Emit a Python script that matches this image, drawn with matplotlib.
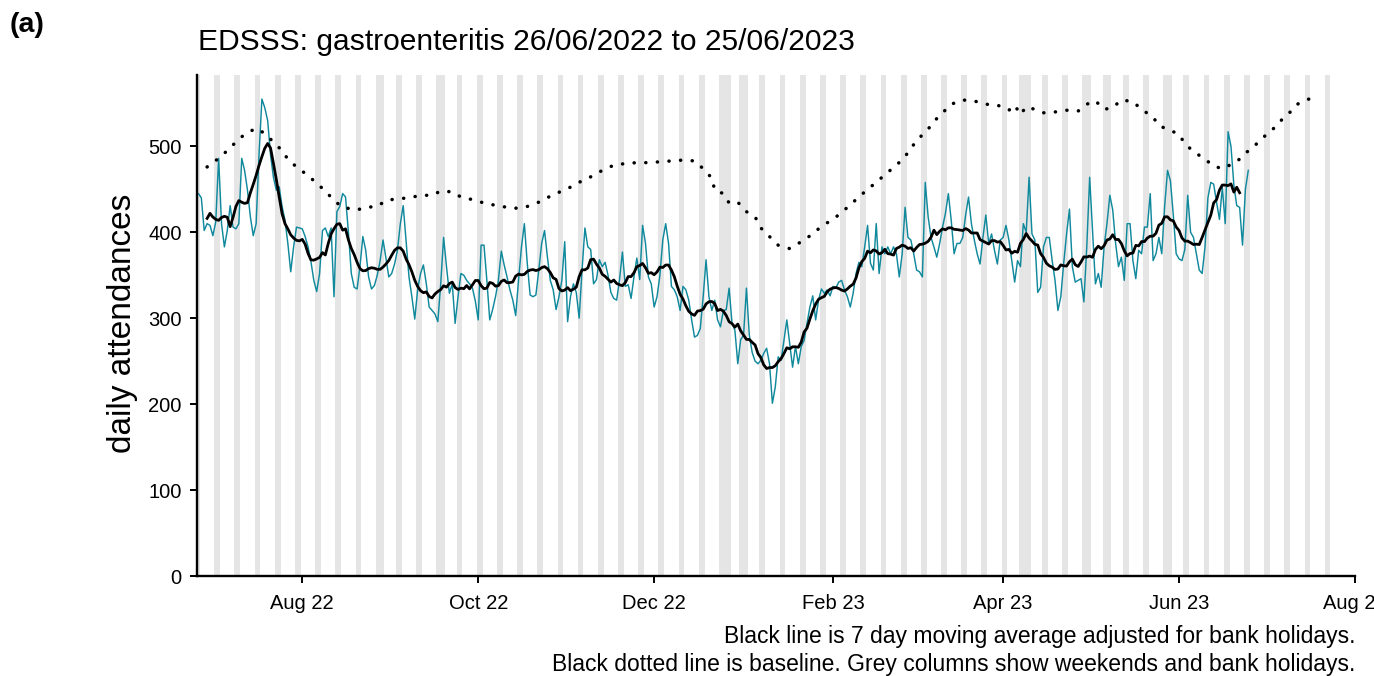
import matplotlib
matplotlib.use("Agg")
import matplotlib.pyplot as plt
import matplotlib.dates as mdates
import numpy as np
import pandas as pd

plt.rcParams['font.family'] = ['Liberation Sans', 'DejaVu Sans']

# daily gastroenteritis attendances, one value per day from 26/06/2022
start = "2022-06-26"
daily = [
    445, 440, 402, 410, 408, 396, 412,
    486, 410, 383, 402, 431, 406, 404,
    410, 486, 472, 449, 418, 396, 410,
    490, 555, 545, 530, 490, 464, 449,
    453, 430, 414, 387, 354, 383, 406,
    405, 404, 395, 383, 366, 344, 331,
    352, 402, 405, 395, 405, 325, 424,
    430, 445, 441, 400, 352, 336, 334,
    360, 395, 379, 348, 334, 338, 350,
    367, 391, 370, 348, 352, 363, 379,
    410, 431, 390, 348, 325, 299, 333,
    352, 362, 340, 313, 309, 305, 296,
    340, 394, 360, 329, 340, 294, 325,
    352, 350, 344, 340, 335, 320, 298,
    385, 385, 344, 298, 310, 325, 344,
    378, 362, 348, 333, 321, 303, 345,
    383, 410, 364, 327, 325, 327, 356,
    387, 402, 371, 344, 333, 310, 325,
    344, 389, 296, 325, 340, 330, 300,
    356, 405, 383, 380, 340, 345, 368,
    360, 365, 350, 330, 323, 321, 345,
    377, 337, 339, 323, 348, 370, 345,
    408, 387, 348, 340, 313, 325, 350,
    391, 410, 387, 337, 333, 325, 309,
    337, 333, 321, 298, 278, 280, 288,
    325, 368, 325, 309, 321, 298, 290,
    309, 310, 335, 294, 286, 247, 275,
    280, 335, 280, 260, 250, 247, 251,
    259, 265, 247, 201, 220, 255, 251,
    274, 298, 271, 243, 267, 247, 267,
    274, 294, 313, 326, 298, 321, 334,
    329, 333, 326, 337, 335, 342, 344,
    333, 325, 313, 329, 352, 365, 360,
    383, 408, 364, 356, 410, 352, 383,
    375, 383, 375, 383, 375, 348, 375,
    429, 394, 391, 375, 356, 354, 348,
    458, 418, 394, 383, 371, 387, 406,
    422, 445, 414, 375, 387, 387, 394,
    420, 441, 410, 391, 375, 363, 394,
    420, 387, 398, 379, 363, 391, 394,
    408, 391, 367, 342, 367, 360, 410,
    400, 464, 398, 391, 330, 336, 383,
    394, 394, 367, 344, 309, 325, 364,
    398, 427, 360, 342, 344, 346, 319,
    383, 464, 402, 340, 352, 336, 383,
    410, 443, 426, 387, 360, 371, 344,
    410, 410, 367, 346, 379, 375, 406,
    406, 445, 367, 375, 394, 375, 430,
    472, 460, 420, 375, 369, 367, 380,
    443, 400, 394, 375, 356, 352, 383,
    440, 458, 456, 435, 415, 452, 410,
    517, 500, 455, 431, 429, 385, 450,
    472,
]

# baseline, read at day offsets from the start date
baseline_day = [3, 7, 10, 13, 16, 20, 23, 26, 29, 31, 34, 38, 41, 44, 47, 50, 55, 58,
                62, 65, 69, 73, 77, 81, 84, 88, 91, 95, 98, 102, 107, 110, 114, 118,
                122, 126, 130, 133, 137, 140, 144, 148, 152, 156, 160, 164, 168, 172,
                175, 178, 179, 182, 184, 187, 190, 193, 195, 198, 201, 205, 209, 213,
                216, 220, 223, 226, 229, 232, 235, 238, 242, 245, 247, 250, 253, 255,
                258, 261, 265, 270, 273, 277, 281, 283, 285, 287, 290, 293, 297, 301,
                305, 308, 311, 314, 317, 320, 324, 327, 331, 333, 336, 340, 342, 345,
                349, 352, 355, 360, 363, 366, 369, 372, 375, 378, 381, 385, 388]
baseline_val = [476, 486, 495, 505, 514, 521, 515, 505, 495, 485, 476, 466, 457, 448, 437,
                429, 426, 429, 430, 437, 439, 440, 443, 443, 448, 447, 441, 438, 435, 432,
                429, 428, 430, 435, 442, 448, 454, 460, 466, 472, 478, 480, 481, 481, 482,
                483, 484, 483, 474, 463, 449, 445, 434, 435, 424, 418, 405, 395, 385, 381,
                389, 398, 407, 415, 423, 432, 441, 450, 458, 467, 478, 488, 498, 510, 520,
                529, 539, 549, 554, 552, 549, 548, 542, 548, 537, 546, 543, 539, 540, 542,
                541, 549, 553, 543, 545, 554, 552, 543, 534, 524, 520, 514, 503, 494, 485,
                477, 474, 482, 492, 500, 510, 518, 529, 538, 549, 555, 547]

bank_holidays = ["2022-08-29", "2022-09-19", "2022-12-26", "2022-12-27", "2023-01-02",
                 "2023-04-07", "2023-04-10", "2023-05-01", "2023-05-08", "2023-05-29"]

dates = pd.date_range(start, periods=len(daily), freq="D")
counts = pd.Series(daily, index=dates)
ma = counts.rolling(7, center=True).mean()
base_dates = pd.Timestamp(start) + pd.to_timedelta(baseline_day, unit="D")

# grey columns: weekends and bank holidays
cal = pd.date_range("2022-06-25", "2023-07-23", freq="D")
grey = cal[(cal.dayofweek >= 5) | cal.isin(pd.to_datetime(bank_holidays))]

ytop = 583
fig = plt.figure(figsize=(13.74, 6.76), dpi=100)
ax = fig.add_axes([197 / 1374, 100 / 676, 1158 / 1374, 501 / 676])

ax.bar(mdates.date2num(grey), ytop, width=1.0, bottom=0, color="#e5e5e5",
       linewidth=0, zorder=0)
ax.plot(mdates.date2num(dates), counts.values, color="#11899d", lw=1.05, zorder=2)
ax.plot(mdates.date2num(dates), ma.values, color="black", lw=2.0, zorder=3)
ax.plot(mdates.date2num(base_dates), baseline_val, color="black", lw=2.5,
        linestyle=(0, (0.05, 3.3)), dash_capstyle="round", zorder=3)

ax.set_xlim(mdates.date2num(pd.Timestamp("2022-06-25 12:00")),
            mdates.date2num(pd.Timestamp("2023-08-01")))
ax.set_ylim(0, ytop)
ax.xaxis.set_major_locator(mdates.MonthLocator(bymonth=[2, 4, 6, 8, 10, 12]))
ax.xaxis.set_major_formatter(mdates.DateFormatter("%b %y"))
ax.set_yticks([0, 100, 200, 300, 400, 500])

for s in ["top", "right"]:
    ax.spines[s].set_visible(False)
for s in ["left", "bottom"]:
    ax.spines[s].set_linewidth(1.7)
ax.tick_params(axis="both", length=5, width=1.4, labelsize=14.5, colors="black")
ax.tick_params(axis="y", pad=6)
ax.tick_params(axis="x", pad=8)

fig.text(123 / 1374, 1 - 323 / 676, "daily attendances", rotation=90,
         ha="center", va="center", fontsize=24)
fig.text(198 / 1374, 1 - 42 / 676, "EDSSS: gastroenteritis 26/06/2022 to 25/06/2023",
         ha="left", va="center", fontsize=21.6)
fig.text(10 / 1374, 1 - 25 / 676, "(a)", ha="left", va="center", fontsize=20.5,
         fontweight="bold")
fig.text(1355 / 1374, 1 - 637 / 676,
         "Black line is 7 day moving average adjusted for bank holidays.",
         ha="right", va="center", fontsize=16.5)
fig.text(1355 / 1374, 1 - 664 / 676,
         "Black dotted line is baseline. Grey columns show weekends and bank holidays.",
         ha="right", va="center", fontsize=16.5)

fig.savefig("out.png", dpi=100)
